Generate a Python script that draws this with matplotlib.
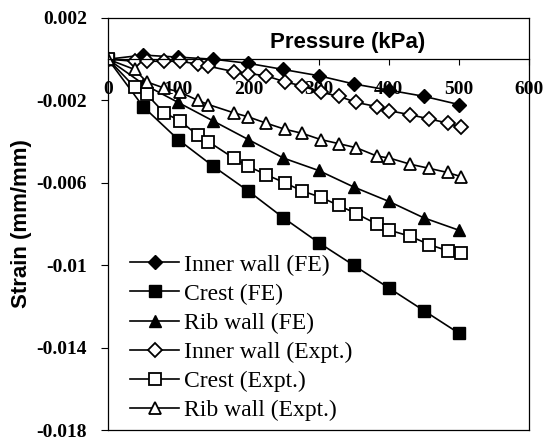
import matplotlib
matplotlib.use('Agg')
import matplotlib.pyplot as plt

# FE results, every 50 kPa
p_fe = [0, 50, 100, 150, 200, 250, 300, 350, 400, 450, 500]
inner_fe = [0, 0.0002, 0.0001, 0.0, -0.0002, -0.0005, -0.0008, -0.0012, -0.0015, -0.0018, -0.0022]
crest_fe = [0, -0.0023, -0.0039, -0.0052, -0.0064, -0.0077, -0.0089, -0.0100, -0.0111, -0.0122, -0.0133]
rib_fe = [0, -0.0012, -0.0021, -0.0030, -0.0039, -0.0048, -0.0054, -0.0062, -0.0069, -0.0077, -0.0083]

# experimental readings
p_exp = [0, 38, 55, 80, 103, 128, 143, 179, 200, 225, 252, 277, 303, 329, 354, 383, 401, 431, 458, 484, 503]
inner_exp = [0, -0.0001, -0.0001, -0.0001, -0.0001, -0.00024, -0.00034, -0.0006, -0.0007, -0.0008, -0.0011,
             -0.0013, -0.0016, -0.0018, -0.0021, -0.0023, -0.0025, -0.0027, -0.0029, -0.0031, -0.0033]
crest_exp = [0, -0.00135, -0.0017, -0.0026, -0.0030, -0.0037, -0.0040, -0.0048, -0.0052, -0.0056, -0.0060,
             -0.0064, -0.0067, -0.0071, -0.0075, -0.0080, -0.0083, -0.0086, -0.0090, -0.0093, -0.0094]
rib_exp = [0, -0.0005, -0.0011, -0.0014, -0.0016, -0.0020, -0.0022, -0.0026, -0.0028, -0.0031, -0.0034,
           -0.0036, -0.0039, -0.0041, -0.0043, -0.0047, -0.0048, -0.0051, -0.0053, -0.0055, -0.0057]

xticks = [0, 100, 200, 300, 400, 500, 600]
xticklabels = ['0', '100', '200', '300', '400', '500', '600']
yticks = [0.002, -0.002, -0.006, -0.01, -0.014, -0.018]
yticklabels = ['0.002', '-0.002', '-0.006', '-0.01', '-0.014', '-0.018']

serif = 'Liberation Serif'
sans = 'Liberation Sans'

fig = plt.figure(figsize=(5.45, 4.4), dpi=100)
ax = fig.add_axes([108/545, 1 - 430/440, 421/545, 412/440])

lw = 1.2
ms = 8.5
ax.plot(p_fe, inner_fe, 'k-D', lw=lw, ms=ms - 1, label='Inner wall (FE)')
ax.plot(p_fe, crest_fe, 'k-s', lw=lw, ms=ms, label='Crest (FE)')
ax.plot(p_fe, rib_fe, 'k-^', lw=lw, ms=ms + 0.5, label='Rib wall (FE)')
ax.plot(p_exp, inner_exp, 'k-D', lw=lw, ms=ms - 1, mfc='white', mew=1.3, label='Inner wall (Expt.)')
ax.plot(p_exp, crest_exp, 'k-s', lw=lw, ms=ms, mfc='white', mew=1.3, label='Crest (Expt.)')
ax.plot(p_exp, rib_exp, 'k-^', lw=lw, ms=ms + 0.5, mfc='white', mew=1.3, label='Rib wall (Expt.)')

ax.set_xlim(0, 600)
ax.set_ylim(-0.018, 0.002)
ax.set_axisbelow(True)

# x axis crosses at zero, frame still closed at the bottom
ax.spines['bottom'].set_position(('data', 0))
ax.axhline(-0.018, color='k', lw=0.9, clip_on=False)
for s in ax.spines.values():
    s.set_linewidth(0.9)

ax.set_xticks(xticks)
ax.set_xticklabels(xticklabels, fontfamily=serif, fontweight='bold', fontsize=14)
ax.set_yticks(yticks)
ax.set_yticklabels(yticklabels, fontfamily=serif, fontweight='bold', fontsize=14)
ax.tick_params(axis='x', direction='out', length=4, pad=12)
ax.tick_params(axis='y', direction='out', length=5, pad=10)

ax.text(342, 0.00082, 'Pressure (kPa)', fontfamily=sans, fontweight='bold', fontsize=16,
        ha='center', va='center')
ax.set_ylabel('Strain (mm/mm)', fontfamily=sans, fontweight='bold', fontsize=16, labelpad=3)

leg = ax.legend(loc='upper left', bbox_to_anchor=(0.052, 0.427), frameon=False,
                prop={'family': serif, 'size': 17}, handlelength=2.1, handletextpad=0.2,
                labelspacing=0.32, borderpad=0, borderaxespad=0)

fig.savefig('out.png', dpi=100)
